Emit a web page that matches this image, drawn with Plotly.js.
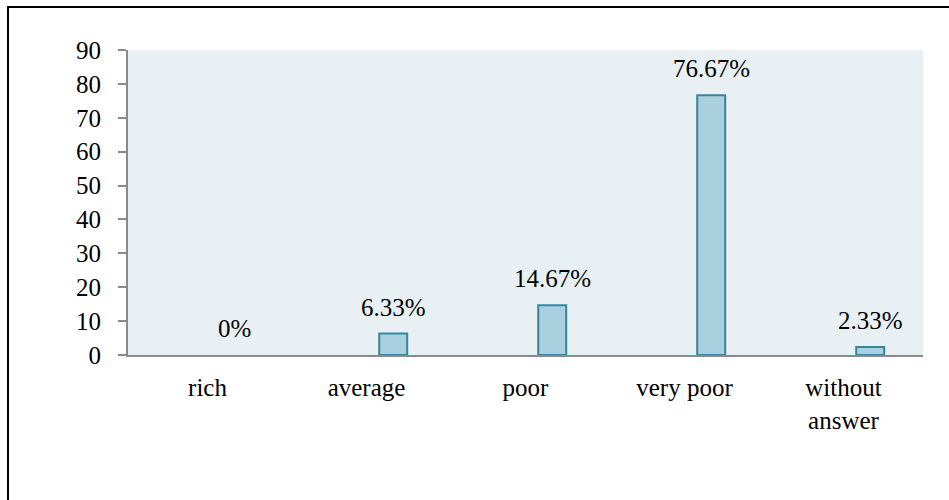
<!DOCTYPE html>
<html>
<head>
<meta charset="utf-8">
<script src="https://cdn.plot.ly/plotly-3.0.1.min.js"></script>
<style>html,body{margin:0;padding:0;background:#fff;}#chart{width:949px;height:500px;}</style>
</head>
<body>
<div id="chart"></div>
<script>
const categories = ["rich", "average", "poor", "very poor", "without<br>answer"];
const values = [0, 6.33, 14.67, 76.67, 2.33];
const valueLabels = ["0%", "6.33%", "14.67%", "76.67%", "2.33%"];
const yTicks = [0, 10, 20, 30, 40, 50, 60, 70, 80, 90];

const FONT = "'Liberation Serif', 'Times New Roman', serif";
const FS = 25;
const barOffset = 0.08, barWidth = 0.176;

const trace = {
  type: "bar",
  x: categories,
  y: values,
  offset: barOffset,
  width: barWidth,
  marker: {color: "#aacfde", line: {color: "#34869c", width: values.map(v => v > 0 ? 2 : 0)}},
  hoverinfo: "none"
};

const annotations = values.map((v, i) => ({
  x: i + barOffset + barWidth / 2,
  y: v,
  xref: "x", yref: "y",
  text: valueLabels[i],
  showarrow: false,
  yanchor: "bottom",
  yshift: 11,
  font: {family: FONT, size: FS, color: "#000"}
}));

const layout = {
  width: 949, height: 500,
  margin: {l: 128, r: 26, t: 50, b: 145},
  paper_bgcolor: "#ffffff",
  plot_bgcolor: "#e8f0f3",
  showlegend: false,
  font: {family: FONT, size: FS, color: "#000"},
  xaxis: {
    type: "category",
    range: [-0.5, 4.5],
    showgrid: false, zeroline: false,
    showline: true, linecolor: "#8a8a8a", linewidth: 2,
    ticks: "", ticklabelstandoff: 9,
    tickfont: {family: FONT, size: FS, color: "#000"},
    fixedrange: true
  },
  yaxis: {
    range: [0, 90],
    tickvals: yTicks,
    showgrid: false, zeroline: false,
    showline: true, linecolor: "#8a8a8a", linewidth: 2,
    ticks: "outside", ticklen: 8, tickcolor: "#8a8a8a", tickwidth: 2,
    ticklabelstandoff: 12,
    tickfont: {family: FONT, size: FS, color: "#000"},
    fixedrange: true
  },
  annotations: annotations,
  shapes: [{
    type: "rect", xref: "paper", yref: "paper",
    x0: (8 - 128) / 795, x1: 1.2,
    y0: -0.7, y1: (355 - 7) / 305,
    line: {color: "#000", width: 2},
    fillcolor: "rgba(0,0,0,0)",
    layer: "below"
  }]
};

Plotly.newPlot("chart", [trace], layout, {displayModeBar: false, staticPlot: true});
</script>
</body>
</html>
